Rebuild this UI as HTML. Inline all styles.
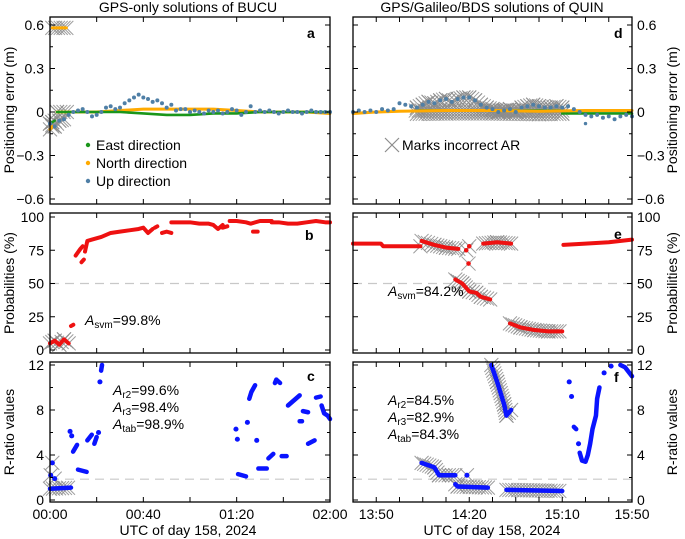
<!DOCTYPE html>
<html><head><meta charset="utf-8"><style>
body{margin:0;background:#fff;}
svg{display:block;font-family:"Liberation Sans",sans-serif;}
</style></head><body>
<svg id="fig" width="685" height="539" viewBox="0 0 685 539" xmlns="http://www.w3.org/2000/svg"></svg>
<script>
// ---- data ----
const leftEastX=[0,1,2,null,3,10,20,30,40,50,60,70,80,90,100,110,120];
const leftEastY=[-0.08,-0.07,-0.06,null,0,0,0,0,-0.01,-0.02,-0.02,-0.01,-0.01,0,0,0,0];
const leftNorthX=[1,7,null,0,1,null,3,10,20,30,40,50,60,70,80,90,100,110,120];
const leftNorthY=[0.58,0.58,null,-0.12,-0.1,null,0,0,0,0.01,0.02,0.02,0.02,0.02,0.01,0,0,0,-0.01];
const leftUpY=[-0.08,-0.1,-0.06,-0.05,-0.02,0,0.01,0.02,0,-0.03,-0.02,0,0.03,0.04,0.02,0.03,0.06,0.08,0.1,0.12,0.1,0.09,0.07,0.08,0.06,0.03,0.05,0.01,0.02,0.02,0,0.01,0,-0.01,0.01,0,0.01,-0.01,0,0.02,0.01,-0.02,0,0.04,0,0.01,0,0.01,0,-0.01,0,0.01,0,0,-0.01,0,0.01,0,0,0,0];
const leftUpStep=2;
const rightEastX=[2.7,9.0,null,9.0,12];
const rightEastY=[0.01,0.01,null,-0.01,-0.01];
const rightNorthX=[0,1,2,4,6,8,10,12];
const rightNorthY=[-0.01,0,0.005,0.01,0.01,0.005,0.01,0.01];
const rightUpY=[0,0.01,0,0.01,0,0.02,0.01,0.02,0.06,0.05,0.04,0.03,0.05,0.07,0.06,0.08,0.09,0.07,0.09,0.1,0.1,0.08,0.05,0.03,0.02,0,0.01,0.02,0,0.03,0.04,0.05,0.04,0.03,0.03,0.04,0.03,0.04,0.02,0,-0.02,-0.03,-0.02,-0.04,-0.03,-0.05,-0.03,-0.02,-0.03];
const rightUpStep=0.25;
const probLeftX=[0,2,4,6,8,null,9,10,null,11,13,14,null,13.5,14.5,null,15,16,18,22,26,30,34,38,40,42,44,null,45,46,null,48,50,52,null,52,56,60,64,68,70,72,74,null,74,76,null,77,80,84,86,90,92,94,95,null,87,89,null,95,98,102,106,110,114,118,120];
const probLeftY=[5,7,4,8,5,null,18,19,null,71,76,78,null,66,68,null,74,82,83,85,88,89,90,91,92,88,91,null,92,93,null,88,89,88,null,96,96,96,95,95,94,91,94,null,92,93,null,97,97,96,95,97,97,97,97,null,89,89,null,96,96,95,95,96,97,96,96];
const probRightX=[0,1.2,1.3,2.9,null,2.95,3.5,4.0,4.53,null,4.87,null,5.0,null,4.97,null,4.4,4.7,5.0,5.3,5.5,5.9,null,5.6,6.2,6.8,null,6.75,7.2,7.8,8.4,9.0,null,9.05,10,11,12];
const probRightY=[80,80,78,78,null,82,79,77,76,null,75,null,78,null,65,null,53,50,44,43,40,38,null,80,81,80,null,20,17,15,14,14,null,79,80,81,83];
const rLeftX=[0.3,null,1,null,2,null,0,9,null,8.6,null,9.3,null,9.9,11.6,null,12,15.7,null,16,17.9,null,19,20,null,20.8,null,21.4,null,21.9,22.3,null,79.7,null,80.3,null,80.6,84,null,84.6,null,85.4,86.3,87.9,null,88.6,null,89.3,92.9,null,93.6,95.7,null,96.4,97,98.6,null,99.3,101.4,null,102,107,null,107,108,null,108.4,110.6,null,110.6,113.4,null,114,116,null,116.4,117.5,119,120];
const rLeftY=[2.2,null,3.3,null,1.9,null,1.0,1.1,null,6.1,null,5.7,null,4.3,4.9,null,2.7,2.5,null,5.3,5.8,null,5.0,5.6,null,6.0,null,10.5,null,11.5,12,null,6.3,null,5.4,null,2.3,2.1,null,6.9,null,9.0,9.6,10.2,null,5.3,null,2.8,2.8,null,3.7,4.1,null,10.4,10.7,10.4,null,3.9,3.9,null,8.4,9.3,null,7.0,7.0,null,7.9,7.8,null,5.0,5.3,null,9.1,9.2,null,8.4,7.7,7.5,7.2];
const rRightX=[2.95,3.5,3.7,4.4,null,4.4,4.5,5.8,null,4.9,null,5.95,6.2,6.5,6.6,6.8,null,6.6,9.0,null,9.3,null,9.4,null,9.5,9.6,null,9.7,null,9.75,9.85,10.0,10.1,10.2,10.3,10.45,10.5,10.6,null,10.8,null,11.1,null,11.5,11.7,12];
const rRightY=[3.3,2.9,2.2,2.2,null,1.4,1.2,1.1,null,2.2,null,12,10.5,8.5,7.5,8,null,0.9,0.8,null,10.5,null,9.2,null,6.5,6.3,null,5,null,4.2,3.5,3.4,4,5,6.3,7.5,9,10,null,11.3,null,11.9,null,12,11.8,11];
const leftXTicks=[0,20,40,60,80,100,120];
const leftXLabels=["00:00","","00:40","","01:20","","02:00"];
const rightXTicks=[1,2,3,4,5,6,7,8,9,10,11,12];
const rightXLabels=["13:50","","","","14:20","","","","15:10","","","15:50"];
// ---- layout ----
const NS="http://www.w3.org/2000/svg";
const svg=document.getElementById('fig');
function el(tag,attrs,parent,text){const e=document.createElementNS(NS,tag);for(const k in attrs)e.setAttribute(k,attrs[k]);if(text!==undefined)e.textContent=text;(parent||svg).appendChild(e);return e;}
const cols={L:{x0:50,x1:330,d0:0,d1:120},R:{x0:353,x1:632,d0:0,d1:12}};
const rows={a:{t:17,b:204,v0:-0.6,v1:0.6,p0:199,p1:25},b:{t:213,b:353,v0:0,v1:100,p0:350,p1:217},c:{t:362,b:502,v0:0,v1:12,p0:500,p1:365}};
function sx(c,v){return c.x0+(v-c.d0)/(c.d1-c.d0)*(c.x1-c.x0);}
function sy(r,v){return r.p0+(v-r.v0)/(r.v1-r.v0)*(r.p1-r.p0);}
function segs(xs,ys){const out=[];let cur=[];for(let i=0;i<xs.length;i++){if(xs[i]===null){if(cur.length)out.push(cur);cur=[];}else cur.push([xs[i],ys[i]]);}if(cur.length)out.push(cur);return out;}
function crosses(g,c,r,xs,ys,lo,hi){
  segs(xs,ys).forEach(s=>{
    const pts=s.map(p=>[sx(c,p[0]),sy(r,p[1]),p[0]]);
    const put=(x,y,u)=>{if(u<lo||u>hi)return;const h=7;
      const cr=el('path',{d:`M${x-h},${y-h}L${x+h},${y+h}M${x-h},${y+h}L${x+h},${y-h}`,stroke:'#8c8c8c','stroke-width':1,opacity:0.85,fill:'none'},g);
      };
    if(pts.length===1){put(pts[0][0],pts[0][1],pts[0][2]);return;}
    for(let i=0;i<pts.length-1;i++){const [x1,y1,u1]=pts[i],[x2,y2,u2]=pts[i+1];const L=Math.hypot(x2-x1,y2-y1);const n=Math.max(1,Math.round(L/3));
      for(let k=0;k<=n;k++){const t=k/n;put(x1+(x2-x1)*t,y1+(y2-y1)*t,u1+(u2-u1)*t);}}
  });
}
function line(g,c,r,xs,ys,color,w,name){
  segs(xs,ys).forEach(s=>{
    if(s.length===1){const e=el('circle',{cx:sx(c,s[0][0]),cy:sy(r,s[0][1]),r:w/2+0.3,fill:color},g);}
    else{const e=el('polyline',{points:s.map(p=>sx(c,p[0])+','+sy(r,p[1])).join(' '),fill:'none',stroke:color,'stroke-width':w,'stroke-linecap':'round','stroke-linejoin':'round'},g);}
  });
}
function dots(g,c,r,ys,step,color,name){ys.forEach((v,i)=>{const e=el('circle',{cx:sx(c,i*step),cy:sy(r,v),r:2,fill:color},g);});}
function frame(c,r,yt,ymin,side,xt,xl,rowName){
  const g=el('g',{});
  el('rect',{x:c.x0,y:r.t,width:c.x1-c.x0,height:r.b-r.t,fill:'none',stroke:'#000','stroke-width':1.3},g);
  yt.forEach(v=>{const y=sy(r,v);el('path',{d:`M${c.x0},${y}h5M${c.x1},${y}h-5`,stroke:'#000'},g);
    const t=el('text',{x:side==='L'?c.x0-6:c.x1+5,y:y+5,'font-size':14,'text-anchor':side==='L'?'end':'start'},g,String(v).replace('-','\u2212'));});
  ymin.forEach(v=>{const y=sy(r,v);el('path',{d:`M${c.x0},${y}h3M${c.x1},${y}h-3`,stroke:'#000'},g);});
  xt.forEach((v,i)=>{const x=sx(c,v);el('path',{d:`M${x},${r.t}v5M${x},${r.b}v-5`,stroke:'#000'},g);
    if(xl&&xl[i]){const t=el('text',{x:x,y:r.b+17,'font-size':14,'text-anchor':'middle'},g,xl[i]);}});
  return g;
}
function txt(x,y,s,attrs,name){const t=el('text',Object.assign({x:x,y:y,'font-size':14},attrs||{}),svg,s);return t;}
function dash(c,r,v){const y=sy(r,v);const e=el('line',{x1:c.x0,x2:c.x1,y1:y,y2:y,stroke:'#c8c8c8','stroke-width':1.2,'stroke-dasharray':'9,6'});}
const L=cols.L,R=cols.R,A=rows.a,B=rows.b,C=rows.c;
dash(L,B,50);dash(R,B,50);dash(L,C,1.85);dash(R,C,1.85);
let g;
g=el('g',{});
const leftUpX=leftUpY.map((v,i)=>i*leftUpStep);
crosses(g,L,A,leftNorthX,leftNorthY,0,8);crosses(g,L,A,leftEastX,leftEastY,0,3);crosses(g,L,A,leftUpX.slice(0,4),leftUpY.slice(0,4),0,6);
line(g,L,A,leftNorthX,leftNorthY,'#ffaa00',3,'north-series');
line(g,L,A,leftEastX,leftEastY,'#1a961a',2.6,'east-series');
dots(g,L,A,leftUpY,leftUpStep,'#4f7fa6','up-series');
g=el('g',{});
const rightUpX=rightUpY.map((v,i)=>i*rightUpStep);
crosses(g,R,A,rightNorthX,rightNorthY.map(v=>v-0.02),2.7,9);crosses(g,R,A,rightUpX,rightUpY,2.7,9);crosses(g,R,A,rightEastX,rightEastY,2.7,9);
line(g,R,A,rightEastX,rightEastY,'#1a961a',2.6,'east-series');
line(g,R,A,rightNorthX,rightNorthY,'#ffaa00',3,'north-series');
dots(g,R,A,rightUpY,rightUpStep,'#4f7fa6','up-series');
{const e=el('circle',{cx:sx(R,10),cy:sy(A,-0.08),r:1.7,fill:'#4f7fa6'});}
g=el('g',{});
crosses(g,L,B,probLeftX,probLeftY,0,8.5);line(g,L,B,probLeftX,probLeftY,'#ee1111',4,'svm-probability');
g=el('g',{});
crosses(g,R,B,probRightX,probRightY,2.9,8.95);line(g,R,B,probRightX,probRightY,'#ee1111',4,'svm-probability');
g=el('g',{});
crosses(g,L,C,rLeftX,rLeftY,0,8.3);line(g,L,C,rLeftX,rLeftY,'#0a14ff',4.5,'r-ratio');
g=el('g',{});
crosses(g,R,C,rRightX,rRightY,2.9,8.95);line(g,R,C,rRightX,rRightY,'#0a14ff',4.5,'r-ratio');
frame(L,A,[0.6,0.3,0,-0.3,-0.6],[0.45,0.15,-0.15,-0.45],'L',leftXTicks,null,'a');
frame(L,B,[100,75,50,25,0],[],'L',leftXTicks,null,'b');
frame(L,C,[12,8,4,0],[10,6,2],'L',leftXTicks,leftXLabels,'c');
frame(R,A,[0.6,0.3,0,-0.3,-0.6],[0.45,0.15,-0.15,-0.45],'R',rightXTicks,null,'d');
frame(R,B,[100,75,50,25,0],[],'R',rightXTicks,null,'e');
frame(R,C,[12,8,4,0],[10,6,2],'R',rightXTicks,rightXLabels,'f');
txt(188,12,'GPS-only solutions of BUCU',{'text-anchor':'middle'},'left-title');
txt(492,12,'GPS/Galileo/BDS solutions of QUIN',{'text-anchor':'middle'},'right-title');
txt(188,535,'UTC of day 158, 2024',{'text-anchor':'middle'},'left-x-axis-title');
txt(492,535,'UTC of day 158, 2024',{'text-anchor':'middle'},'right-x-axis-title');
txt(0,0,'Positioning error (m)',{'text-anchor':'middle',transform:'translate(14,110) rotate(-90)'},'y-axis-title');
txt(0,0,'Probabilities (%)',{'text-anchor':'middle',transform:'translate(14,283) rotate(-90)'},'y-axis-title');
txt(0,0,'R-ratio values',{'text-anchor':'middle',transform:'translate(14,432) rotate(-90)'},'y-axis-title');
txt(0,0,'Positioning error (m)',{'text-anchor':'middle',transform:'translate(677,110) rotate(-90)'},'y-axis-title-right');
txt(0,0,'Probabilities (%)',{'text-anchor':'middle',transform:'translate(677,283) rotate(-90)'},'y-axis-title-right');
txt(0,0,'R-ratio values',{'text-anchor':'middle',transform:'translate(677,432) rotate(-90)'},'y-axis-title-right');
[['a',307,38],['b',305,240],['c',307,381],['d',614,38],['e',614,239],['f',614,382]].forEach(p=>txt(p[1],p[2],p[0],{'font-weight':'bold'},'panel-letter-'+p[0]));
[['East direction','#1a961a',145],['North direction','#ffaa00',163],['Up direction','#4f7fa6',181]].forEach(l=>{
  const c=el('circle',{cx:88,cy:l[2],r:2.2,fill:l[1]});
  txt(96,l[2]+5,l[0],{},'legend-entry');});
{const e=el('path',{d:'M385,138L399,152M385,152L399,138',stroke:'#8c8c8c','stroke-width':1.2});}
txt(402,150,'Marks incorrect AR',{},'legend-entry');
function acc(x,y,sub,val,name){const t=txt(x,y,'',{},name);
  el('tspan',{'font-style':'italic'},t,'A');el('tspan',{'font-size':10,dy:3},t,sub);el('tspan',{dy:-3},t,'='+val);}
acc(85,325,'svm','99.8%','accuracy-svm');acc(388,296,'svm','84.2%','accuracy-svm');
acc(113,395,'r2','99.6%','accuracy-r2');acc(113,412,'r3','98.4%','accuracy-r3');acc(113,429,'tab','98.9%','accuracy-tab');
acc(388,405,'r2','84.5%','accuracy-r2');acc(388,422,'r3','82.9%','accuracy-r3');acc(388,439,'tab','84.3%','accuracy-tab');
</script>
</body></html>
